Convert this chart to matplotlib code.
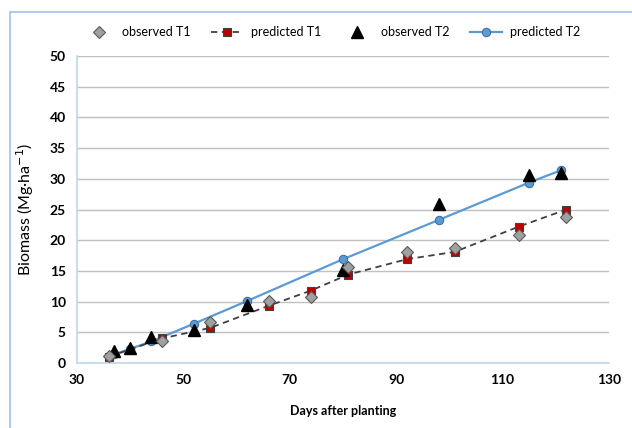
import numpy as np
import matplotlib.pyplot as plt
from matplotlib.patches import Rectangle

plt.rcParams['font.family'] = ['Lato', 'DejaVu Sans']

# observed and predicted biomass, treatment 1
days_t1 = [36, 46, 55, 66, 74, 81, 92, 101, 113, 122]
obs_t1 = [1.2, 3.5, 6.6, 10.1, 10.8, 15.7, 18.0, 18.7, 20.9, 23.7]
pred_t1 = [1.0, 4.0, 5.7, 9.3, 11.8, 14.4, 16.9, 18.1, 22.2, 25.0]

# observed and predicted biomass, treatment 2
days_t2 = [37, 40, 44, 52, 62, 80, 98, 115, 121]
obs_t2 = [2.0, 2.5, 4.3, 5.4, 9.4, 15.1, 25.9, 30.6, 30.9]
pred_t2 = [1.4, 2.3, 3.5, 6.4, 10.1, 16.9, 23.3, 29.4, 31.4]

fig = plt.figure(figsize=(6.32, 4.28), dpi=100)
ax = fig.add_axes([0.1218, 0.152, 0.8418, 0.717])

ax.plot(days_t1, obs_t1, linestyle='none', marker='D', markersize=6.5,
        markerfacecolor='#A0A0A0', markeredgecolor='#595959', markeredgewidth=0.8,
        label='observed T1', zorder=6)
ax.plot(days_t1, pred_t1, linestyle='--', color='#404040', linewidth=1.3,
        dashes=(3.5, 2.5), marker='s', markersize=6,
        markerfacecolor='#C00000', markeredgecolor='#404040', markeredgewidth=0.8,
        label='predicted T1', zorder=4)
ax.plot(days_t2, obs_t2, linestyle='none', marker='^', markersize=8.5,
        color='black', label='observed T2', zorder=5)
ax.plot(days_t2, pred_t2, linestyle='-', color='#5B9BD5', linewidth=1.6,
        marker='o', markersize=6,
        markerfacecolor='#5B9BD5', markeredgecolor='#41719C', markeredgewidth=0.8,
        label='predicted T2', zorder=3)

ax.set_xlim(30, 130)
ax.set_ylim(0, 50)
ax.set_xticks(np.arange(30, 131, 20))
ax.set_yticks(np.arange(0, 51, 5))
ax.tick_params(length=0, labelsize=10, pad=8)
for lbl in ax.get_xticklabels() + ax.get_yticklabels():
    lbl.set_fontweight('bold')
ax.yaxis.grid(True, color='#C0C0C0', linewidth=1)
ax.set_axisbelow(True)
for s in ['top', 'right']:
    ax.spines[s].set_visible(False)
for s in ['left', 'bottom']:
    ax.spines[s].set_color('#BDD7EE')
    ax.spines[s].set_linewidth(1.2)

ax.set_xlabel('Days after planting', fontsize=9, fontweight='bold', labelpad=14)
ax.set_ylabel('Biomass (Mg·ha$^{-1}$)', fontsize=11.5, labelpad=10)

fig.legend(loc='center', bbox_to_anchor=(0.524, 0.925), ncol=4, frameon=False,
           fontsize=9, handlelength=2.6, columnspacing=1.6, handletextpad=0.6)

# chart area border
fig.patches.append(Rectangle((0.016, -0.05), 1.1, 0.022 + 1.0, transform=fig.transFigure,
                             fill=False, edgecolor='#9DC3E6', linewidth=1.2))

fig.savefig('out.png', dpi=100)
